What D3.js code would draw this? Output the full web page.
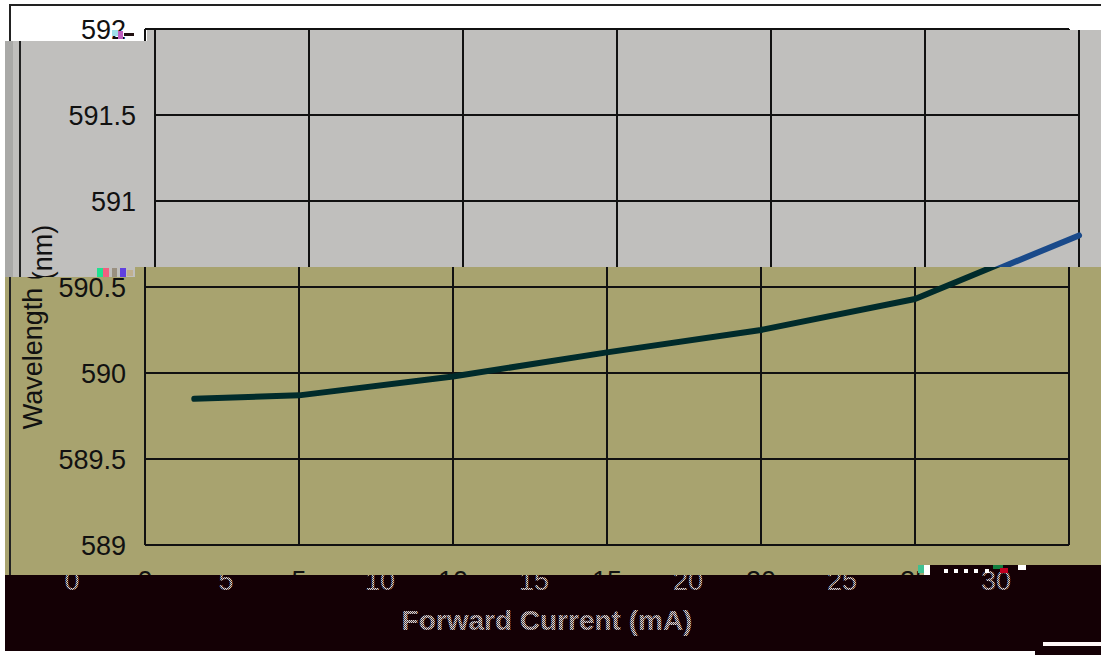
<!DOCTYPE html>
<meta charset="utf-8">
<html>
	<head>
		<title>Wavelength vs Forward Current</title>
		<script src="https://d3js.org/d3.v7.min.js"></script>
		<style>
			body { margin: 0; background: #fff; }
			svg text { font-family: "Liberation Sans", Arial, sans-serif; }
		</style>
	</head>
<body>
<script type="text/javascript">

	// data
	var current = [1.6, 5, 10, 15, 20, 25, 30];
	var wavelength = [589.85, 589.87, 589.98, 590.12, 590.25, 590.43, 590.80];
	var xTicks = [0, 5, 10, 15, 20, 25, 30];
	var yTicks = [589, 589.5, 590, 590.5, 591, 591.5, 592];
	var xTitle = "Forward Current (mA)";
	var yTitle = "Wavelength (nm)";

	var width = 1101;
	var height = 655;

	// scales for the plot area
	var x = d3.scaleLinear().domain([0, 30]).range([145, 1069]);
	var y = d3.scaleLinear().domain([589, 592]).range([545, 29]);

	var svg = d3.select("body")
		.append("svg")
		.attr("width", width)
		.attr("height", height);

	var defs = svg.append("defs");

	// dithered fill used for the broken text at the bottom
	var dith = defs.append("pattern")
		.attr("id", "dither")
		.attr("patternUnits", "userSpaceOnUse")
		.attr("width", 2)
		.attr("height", 2);
	dith.append("rect").attr("width", 2).attr("height", 2).attr("fill", "#4a3a3e");
	dith.append("rect").attr("width", 1).attr("height", 1).attr("fill", "#e4dcdc");
	dith.append("rect").attr("x", 1).attr("y", 1).attr("width", 1).attr("height", 1).attr("fill", "#d0c8c8");

	// the picture is split into shifted bands
	var bands = [
		{ id: "bandA", pts: [[0,0],[1101,0],[1101,30],[147,30],[147,41],[0,41]],
		  bg: "#ffffff", dx: 0, line: "#0b2b3b", full: true },
		{ id: "bandB", pts: [[5,41],[147,41],[147,30],[1101,30],[1101,267],[135,267],[135,277],[5,277]],
		  bg: "#c0bfbd", dx: 10, line: "#1a4a8a", full: true },
		{ id: "bandC", pts: [[5,277],[135,277],[135,267],[1101,267],[1101,565],[928,565],[928,575],[5,575]],
		  bg: "#a8a36f", dx: 0, line: "#002b2b", full: true },
		{ id: "bandD", pts: [[5,575],[928,575],[928,565],[1101,565],[1101,655],[1035,655],[1035,651],[5,651]],
		  bg: "#140005", dx: -73, line: "none", full: false }
	];

	bands.forEach(function(b) {
		defs.append("clipPath")
			.attr("id", "clip-" + b.id)
			.append("polygon")
			.attr("points", b.pts.map(function(p) { return p.join(","); }).join(" "));

		var g = svg.append("g").attr("clip-path", "url(#clip-" + b.id + ")");

		g.append("rect")
			.attr("x", 0).attr("y", 0)
			.attr("width", width).attr("height", height)
			.attr("fill", b.bg);

		if (b.id == "bandB") {
			// lighter stripe on the left edge
			g.append("rect").attr("x", 5).attr("y", 30).attr("width", 8).attr("height", 250).attr("fill", "#a9a9a7");
		}

		var inner = g.append("g").attr("transform", "translate(" + b.dx + ",0)");
		drawChart(inner, b);
	});

	function drawChart(g, b) {
		var ink = b.full ? "#111" : "url(#dither)";

		if (b.full) {
			// outer frame of the chart
			g.append("rect")
				.attr("x", 10).attr("y", 5)
				.attr("width", 1300).attr("height", 800)
				.attr("fill", "none")
				.attr("stroke", "#222")
				.attr("stroke-width", 2);

			// grid lines
			g.selectAll(".vgrid")
				.data(xTicks)
				.enter()
				.append("line")
				.attr("x1", function(d) { return x(d); })
				.attr("x2", function(d) { return x(d); })
				.attr("y1", y(592)).attr("y2", y(589))
				.attr("stroke", "#111")
				.attr("stroke-width", 2);

			g.selectAll(".hgrid")
				.data(yTicks)
				.enter()
				.append("line")
				.attr("x1", x(0)).attr("x2", x(30))
				.attr("y1", function(d) { return y(d); })
				.attr("y2", function(d) { return y(d); })
				.attr("stroke", "#111")
				.attr("stroke-width", 2);

			// y tick labels
			g.selectAll(".ylab")
				.data(yTicks)
				.enter()
				.append("text")
				.attr("x", 126)
				.attr("y", function(d) { return y(d) + 9.5; })
				.attr("text-anchor", "end")
				.attr("font-size", 27)
				.attr("fill", ink)
				.text(function(d) { return d; });

			// y title
			g.append("text")
				.attr("transform", "translate(42,327) rotate(-90)")
				.attr("text-anchor", "middle")
				.attr("font-size", 27)
				.attr("fill", ink)
				.text(yTitle);

			// the data line
			var line = d3.line()
				.x(function(d) { return x(d[0]); })
				.y(function(d) { return y(d[1]); });

			g.append("path")
				.datum(d3.zip(current, wavelength))
				.attr("d", line)
				.attr("fill", "none")
				.attr("stroke", b.line)
				.attr("stroke-width", 6)
				.attr("stroke-linecap", "round")
				.attr("stroke-linejoin", "round");
		}

		// x tick labels
		g.selectAll(".xlab")
			.data(xTicks)
			.enter()
			.append("text")
			.attr("x", function(d) { return x(d); })
			.attr("y", 590)
			.attr("text-anchor", "middle")
			.attr("font-size", 27)
			.attr("fill", ink)
			.text(function(d) { return d; });

		// x title
		g.append("text")
			.attr("x", 620)
			.attr("y", 630)
			.attr("text-anchor", "middle")
			.attr("font-size", 28)
			.attr("font-weight", b.full ? "normal" : "bold")
			.attr("fill", ink)
			.text(xTitle);
	}

	// small broken blocks along the band edges
	var noise = [
		[112, 30, 6, 6, "#9fe0e8"], [118, 31, 5, 8, "#c060c0"], [124, 33, 10, 3, "#201010"],
		[97, 268, 6, 9, "#20e090"], [103, 268, 6, 9, "#f06080"], [112, 268, 5, 9, "#9a9080"],
		[120, 268, 6, 9, "#6040e0"], [127, 270, 6, 6, "#c0b090"],
		[918, 565, 6, 8, "#40c090"], [924, 565, 6, 10, "#ffffff"],
		[993, 565, 10, 4, "#108040"], [1000, 568, 8, 5, "#c00020"], [1018, 565, 8, 5, "#ffffff"]
	];
	svg.selectAll(".noise")
		.data(noise)
		.enter()
		.append("rect")
		.attr("x", function(d) { return d[0]; })
		.attr("y", function(d) { return d[1]; })
		.attr("width", function(d) { return d[2]; })
		.attr("height", function(d) { return d[3]; })
		.attr("fill", function(d) { return d[4]; });

	// white dots on the top edge of the dark band
	svg.selectAll(".dot")
		.data([944, 954, 964, 974, 985])
		.enter()
		.append("rect")
		.attr("x", function(d) { return d; })
		.attr("y", 569)
		.attr("width", 4).attr("height", 4)
		.attr("fill", "#ffffff");

	// thin white bar in the bottom right corner
	svg.append("rect")
		.attr("x", 1043).attr("y", 642)
		.attr("width", 58).attr("height", 4)
		.attr("fill", "#fff8f8");

</script>
</body>
</html>
